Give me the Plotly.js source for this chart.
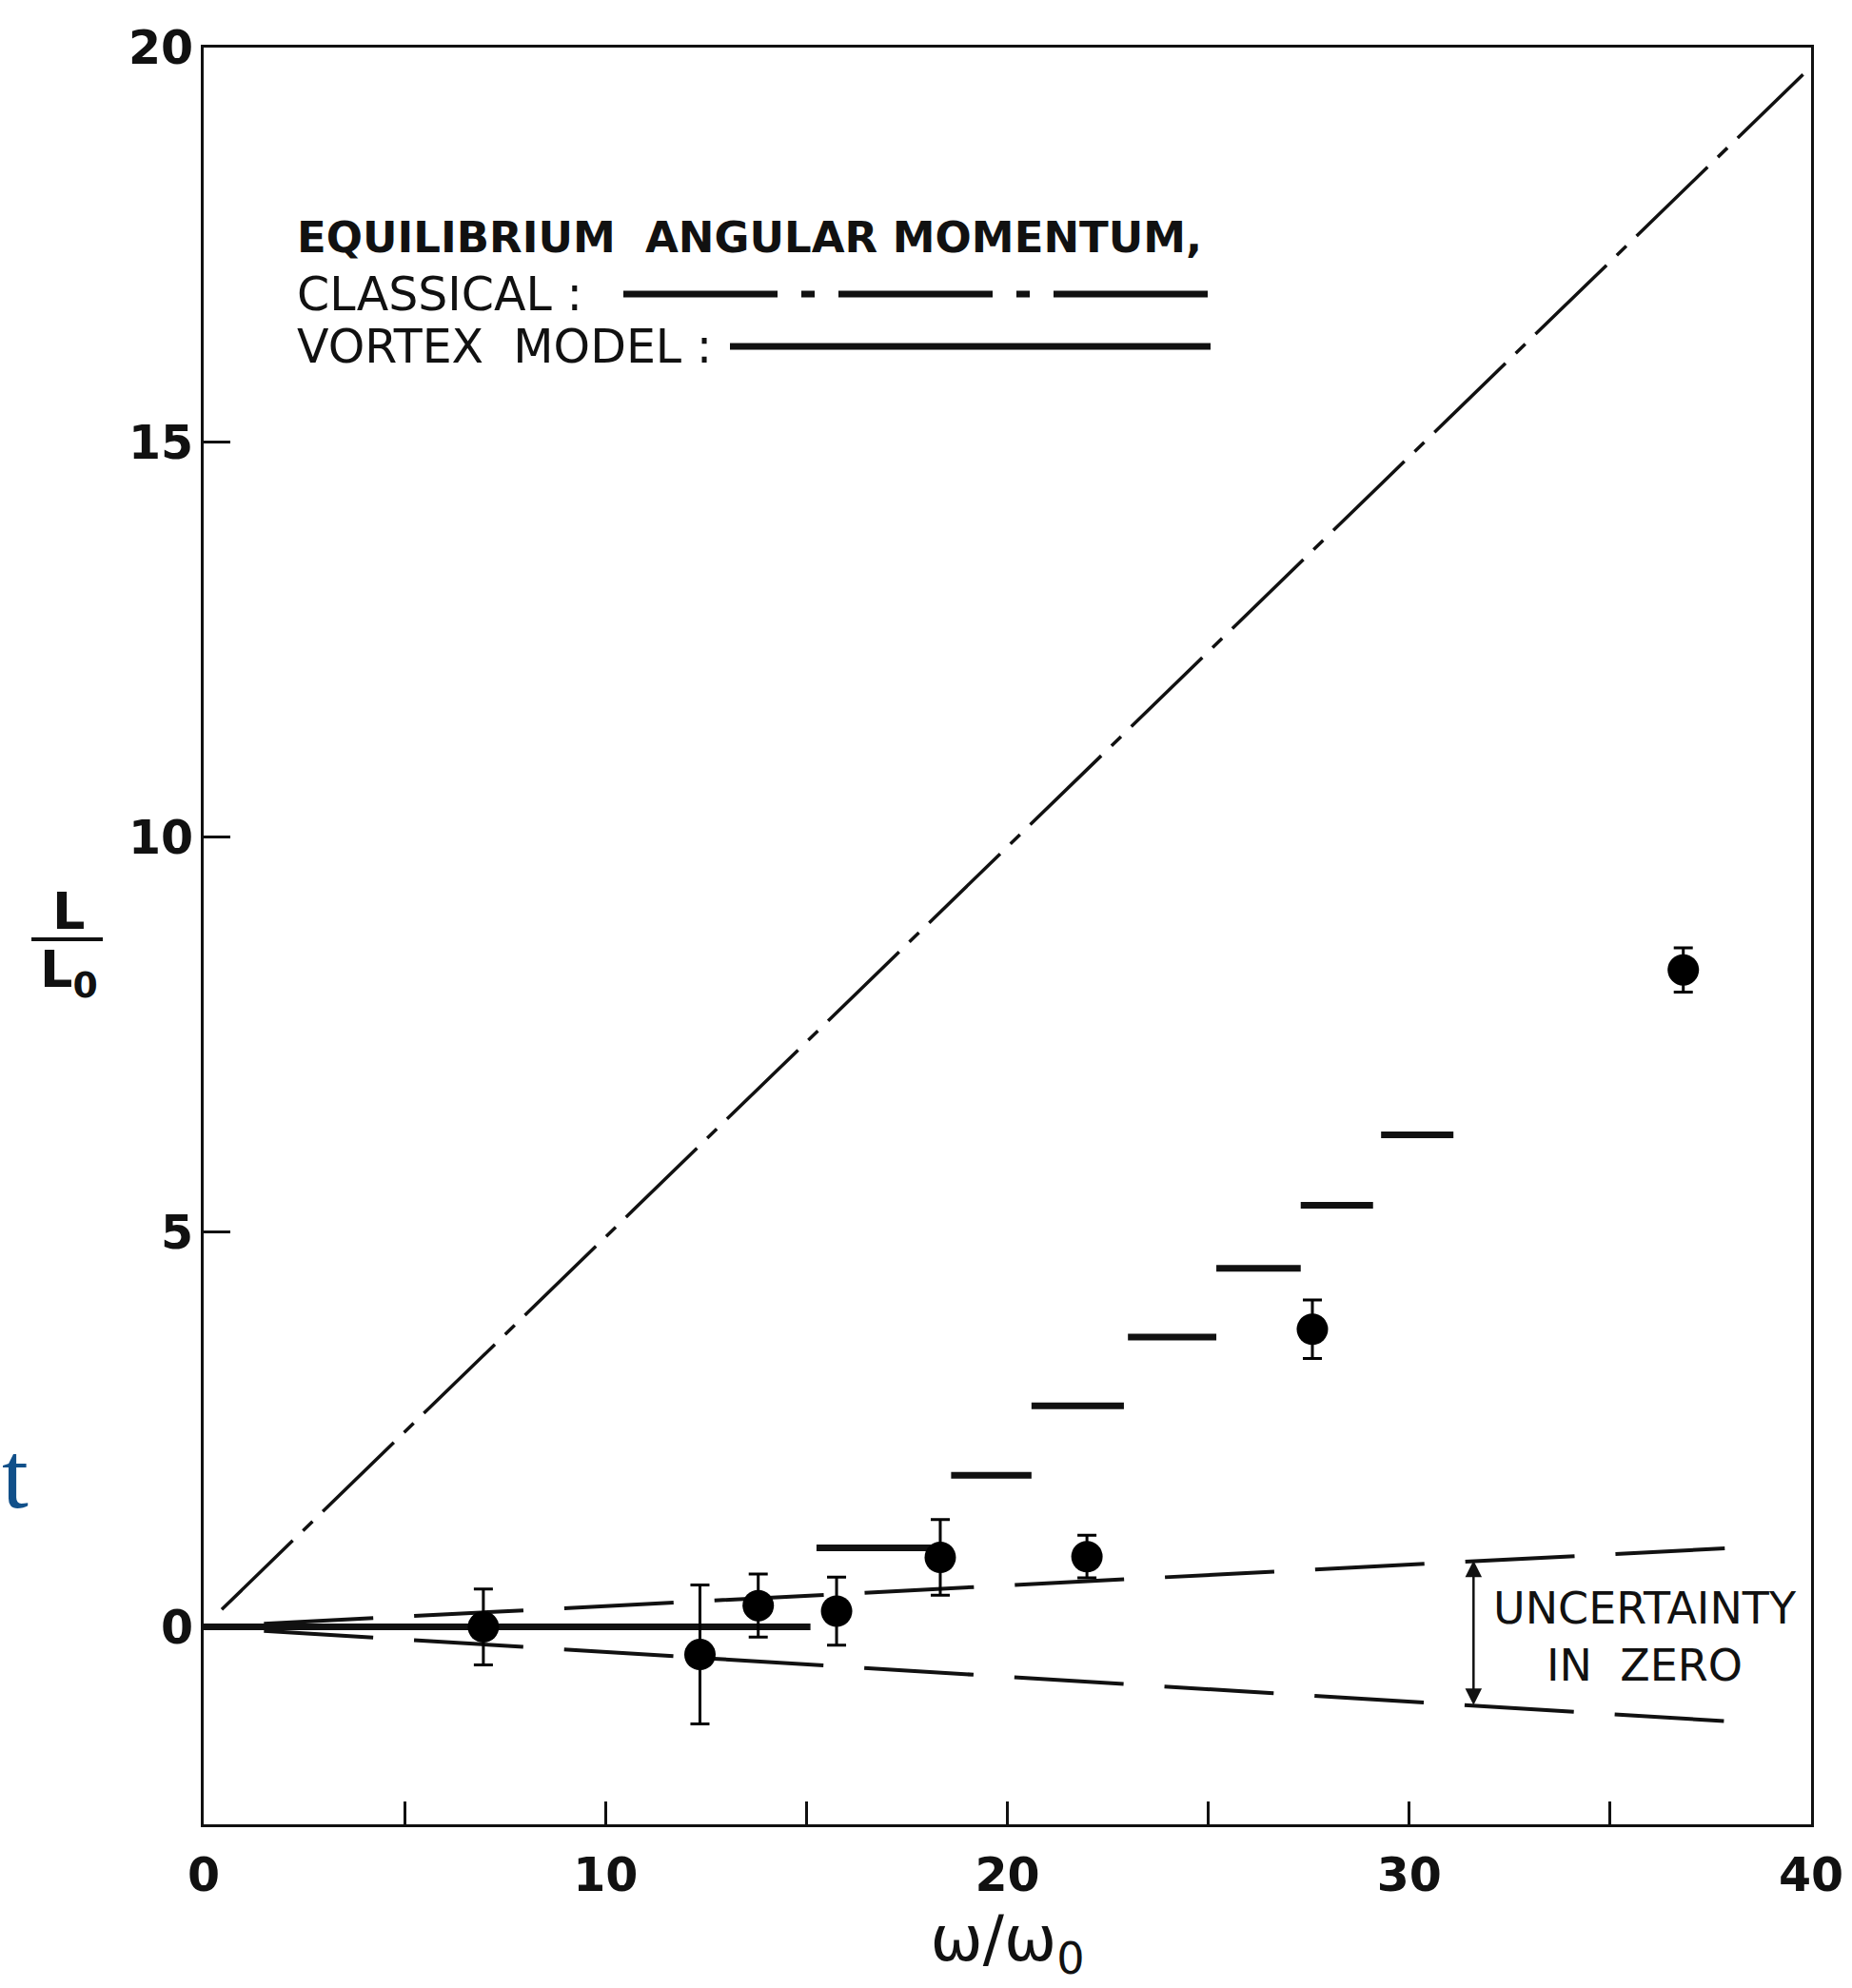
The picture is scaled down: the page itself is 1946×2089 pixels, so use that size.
<!DOCTYPE html>
<html>
<head>
<meta charset="utf-8">
<script src="https://cdn.plot.ly/plotly-3.0.1.min.js"></script>
<style>
  html, body { margin: 0; padding: 0; background: #fff; }
  #chart { width: 1946px; height: 2089px; }
</style>
</head>
<body>
<div id="chart"></div>
<script>
// Measured angular momentum L/L0 against rotation speed omega/omega0
const omega    = [6.96, 12.35, 13.8, 15.75, 18.33, 21.98, 27.59, 36.82];
const Lmeas    = [0.0, -0.35, 0.27, 0.20, 0.88, 0.89, 3.77, 8.32];
const LmeasErr = [0.48, 0.88, 0.40, 0.43, 0.48, 0.27, 0.37, 0.28];

// Vortex model: horizontal plateaus (start, end, level)
const stepFrom  = [0, 15.25, 18.6, 20.6, 23.0, 25.2, 27.3, 29.3];
const stepTo    = [15.1, 18.1, 20.6, 22.9, 25.2, 27.3, 29.1, 31.1];
const stepLevel = [0, 1.0, 1.92, 2.80, 3.67, 4.54, 5.34, 6.23];

// Classical equilibrium line
const classicalW = [0.45, 39.8];
const classicalL = [0.22, 19.66];

// Uncertainty in zero (upper and lower bounds)
const bandW     = [1.5, 38.05];
const bandUpper = [0.04, 1.0];
const bandLower = [-0.05, -1.2];
const arrowW    = 31.6;
const arrowTop  = 0.86;
const arrowBot  = -0.99;

// Axis ticks (labelled majors, unlabelled minors every 5)
const xTickVals = [0, 10, 20, 30, 40];
const xTickText = ['0', '10', '20', '30', '40'];
const yTickVals = [0, 5, 10, 15, 20];
const yTickText = ['0', '5', '10', '15', '20'];

// Page geometry (pixels) and helpers to place items in paper space
const W = 1946, H = 2089;
const M = { l: 214, r: 43, t: 50, b: 172 };
const plotW = W - M.l - M.r, plotH = H - M.t - M.b;
const px = x => (x - M.l) / plotW;
const py = y => 1 - (y - M.t) / plotH;

const INK = '#111111';
const FONT = 'DejaVu Sans, Liberation Sans, sans-serif';

// Build the vortex plateau trace with gaps between segments
const vx = [], vy = [];
stepFrom.forEach((s, i) => {
  vx.push(s, stepTo[i], null);
  vy.push(stepLevel[i], stepLevel[i], null);
});

const traces = [
  {
    x: classicalW, y: classicalL, mode: 'lines', type: 'scatter',
    line: { color: INK, width: 3.5, dash: '104px,15px,14px,15px' },
    hoverinfo: 'skip'
  },
  {
    x: bandW, y: bandUpper, mode: 'lines', type: 'scatter',
    line: { color: INK, width: 4, dash: '115px,43px' }, hoverinfo: 'skip'
  },
  {
    x: bandW, y: bandLower, mode: 'lines', type: 'scatter',
    line: { color: INK, width: 4, dash: '115px,43px' }, hoverinfo: 'skip'
  },
  {
    x: vx, y: vy, mode: 'lines', type: 'scatter', connectgaps: false,
    line: { color: INK, width: 7 }, hoverinfo: 'skip'
  },
  {
    x: omega, y: Lmeas, mode: 'markers', type: 'scatter',
    marker: { symbol: 'circle', size: 33, color: '#000' },
    error_y: { type: 'data', array: LmeasErr, visible: true,
               thickness: 3, width: 10, color: '#000' }
  }
];

const legendRow = (text, yPix, bold) => ({
  xref: 'paper', yref: 'paper', x: px(310), y: py(yPix),
  xanchor: 'left', yanchor: 'middle', showarrow: false, text: text,
  font: { family: FONT, size: bold ? 45 : 49, color: INK, weight: bold ? 'bold' : 'normal' }
});

const annotations = [
  legendRow('EQUILIBRIUM\u00a0\u00a0ANGULAR MOMENTUM,', 250, true),
  legendRow('CLASSICAL\u00a0:', 309, false),
  legendRow('VORTEX\u00a0 MODEL\u00a0:', 364, false),
  {
    xref: 'paper', yref: 'paper', x: px(1728), y: py(1720),
    xanchor: 'center', yanchor: 'middle', showarrow: false, align: 'center',
    text: 'UNCERTAINTY<br>IN\u00a0\u00a0ZERO',
    font: { family: FONT, size: 46, color: INK }
  },
  {
    xref: 'x', yref: 'y', axref: 'x', ayref: 'y',
    x: arrowW, y: arrowBot, ax: arrowW, ay: arrowTop,
    text: '', showarrow: true, arrowside: 'end+start',
    arrowhead: 2, arrowsize: 1.4, arrowwidth: 2.5, arrowcolor: INK,
    standoff: 0, startstandoff: 0
  },
  // y-axis label drawn as a stacked fraction
  {
    xref: 'paper', yref: 'paper', x: px(72), y: py(957),
    xanchor: 'center', yanchor: 'middle', showarrow: false, text: 'L',
    font: { family: FONT, size: 54, color: INK, weight: 'bold' }
  },
  {
    xref: 'paper', yref: 'paper', x: px(40), y: py(1022),
    xanchor: 'left', yanchor: 'middle', showarrow: false, text: 'L<sub>0</sub>',
    font: { family: FONT, size: 54, color: INK, weight: 'bold' }
  },
  {
    xref: 'paper', yref: 'paper', x: px(0), y: py(1550),
    xanchor: 'left', yanchor: 'middle', showarrow: false, text: 't',
    font: { family: 'Liberation Serif, serif', size: 100, color: '#11508a' }
  }
];

const shapes = [
  { type: 'line', xref: 'paper', yref: 'paper',
    x0: px(655), x1: px(1272), y0: py(309), y1: py(309),
    line: { color: INK, width: 7, dash: '162px,25px,14px,25px' } },
  { type: 'line', xref: 'paper', yref: 'paper',
    x0: px(767), x1: px(1272), y0: py(364), y1: py(364),
    line: { color: INK, width: 7 } },
  { type: 'line', xref: 'paper', yref: 'paper',
    x0: px(33), x1: px(108), y0: py(987), y1: py(987),
    line: { color: INK, width: 4 } }
];

const axisCommon = {
  showgrid: false, zeroline: false, showline: true, mirror: true,
  linecolor: INK, linewidth: 3, ticks: 'inside', tickwidth: 3,
  tickcolor: INK, tickmode: 'array',
  tickfont: { family: FONT, size: 49, color: INK, weight: 'bold' }
};

const layout = {
  width: W, height: H,
  margin: M,
  paper_bgcolor: '#fff', plot_bgcolor: '#fff',
  showlegend: false,
  xaxis: Object.assign({}, axisCommon, {
    range: [0, 40], tickvals: xTickVals, ticktext: xTickText,
    ticklen: 24, ticklabelstandoff: 8,
    minor: { dtick: 5, tick0: 0, ticks: 'inside', ticklen: 24,
             tickwidth: 3, tickcolor: INK, showgrid: false },
    title: { text: '\u03c9/\u03c9<sub>0</sub>', standoff: 14,
             font: { family: FONT, size: 66, color: INK } }
  }),
  yaxis: Object.assign({}, axisCommon, {
    range: [-2.5, 20], tickvals: yTickVals, ticktext: yTickText,
    ticklen: 28, ticklabelstandoff: -2
  }),
  annotations: annotations,
  shapes: shapes
};

Plotly.newPlot('chart', traces, layout, { displayModeBar: false, staticPlot: true });
</script>
</body>
</html>
